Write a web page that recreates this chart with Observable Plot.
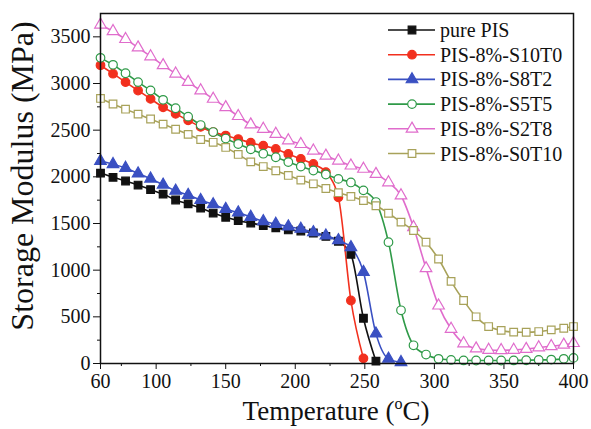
<!DOCTYPE html>
<html><head><meta charset="utf-8">
<script src="https://cdn.jsdelivr.net/npm/d3@7"></script>
<script src="https://cdn.jsdelivr.net/npm/@observablehq/plot@0.6"></script>
<style>
body{margin:0;background:#fff}
#chart svg, #chart svg text, #chart svg tspan{font-family:'Liberation Serif','DejaVu Serif',serif !important}
</style>
</head><body><div id="chart"></div>
<script>
// Temperature (°C) of the measured points
const temps = [60,69,78,87,96,105,114,123,132,141,150,159,168,177,186,195,204,213,222,231,240,249,258,267,276,285,294,303,312,321,330,339,348,357,366,375,384,393,400];
const seriesNames = ["pure PIS","PIS-8%-S10T0","PIS-8%-S8T2","PIS-8%-S5T5","PIS-8%-S2T8","PIS-8%-S0T10"];
const seriesColors = ["#111111","#f2301e","#3a50c2","#2f9a48","#e06ccc","#a8a25a"];
const seriesSymbols = ["square","circle","triangle","circle","triangle","square"];
const seriesFilled = [true,true,true,false,false,false];
// Storage modulus (MPa)
const purePIS = [2040,1995,1955,1912,1863,1815,1752,1710,1665,1612,1567,1531,1505,1478,1453,1431,1420,1398,1362,1310,1170,485,25];
const s10t0  = [3195,3105,3015,2925,2835,2745,2675,2605,2535,2480,2442,2405,2365,2334,2299,2245,2192,2138,2050,1780,675,55];
const s8t2   = [2170,2135,2095,2035,1980,1915,1850,1805,1750,1705,1655,1617,1570,1523,1495,1467,1442,1406,1370,1320,1245,980,320,50,14];
const s5t5   = [3275,3200,3110,3015,2925,2825,2735,2645,2555,2480,2410,2352,2295,2248,2210,2158,2110,2068,2025,1978,1940,1855,1730,1300,570,195,96,50,38,33,32,32,32,33,35,38,42,50,60];
const s2t8   = [3630,3560,3475,3385,3290,3195,3105,3015,2925,2835,2745,2650,2560,2513,2459,2390,2350,2280,2225,2173,2120,2085,2030,1940,1800,1460,1020,620,370,215,160,145,142,145,155,172,185,200,218];
const s0t10  = [2840,2780,2725,2672,2620,2565,2510,2455,2400,2370,2315,2240,2160,2110,2065,2015,1965,1925,1875,1830,1790,1745,1690,1610,1515,1425,1300,1120,880,675,500,396,355,336,335,342,360,378,396];
const seriesValues = [purePIS,s10t0,s8t2,s5t5,s2t8,s0t10];

const xTicks = [60,100,150,200,250,300,350,400];
const xMinorTicks = [75,125,175,225,275,325,375];
const yTicks = [0,500,1000,1500,2000,2500,3000,3500];
const yMinorTicks = [250,750,1250,1750,2250,2750,3250];

const rows = [];
seriesNames.forEach((name, k) => {
  seriesValues[k].forEach((v, i) => rows.push({T: temps[i], v, s: name}));
});

const FONT = "'Liberation Serif','DejaVu Serif',serif";
const R = 4.3;
const marks = [
  Plot.axisX({ticks: xTicks, tickSize: 6, tickPadding: 4, fontSize: 20, tickFormat: d3.format("d"), label: null, stroke: "#111", color: "#111"}),
  Plot.axisX({ticks: xMinorTicks, tickSize: 3, tickFormat: () => "", label: null, stroke: "#111"}),
  Plot.axisY({ticks: yTicks, tickSize: 7, tickPadding: 3, fontSize: 20, tickFormat: d3.format("d"), label: null, stroke: "#111", color: "#111"}),
  Plot.axisY({ticks: yMinorTicks, tickSize: 3, tickFormat: () => "", label: null, stroke: "#111"}),
  Plot.line(rows, {x: "T", y: "v", z: "s", stroke: "s", curve: "monotone-x", strokeWidth: 1.6})
];
seriesNames.forEach((name, k) => {
  marks.push(Plot.dot(rows.filter(d => d.s === name), {
    x: "T", y: "v", r: R, symbol: () => seriesSymbols[k],
    fill: seriesFilled[k] ? seriesColors[k] : "white",
    stroke: seriesColors[k], strokeWidth: 1.2
  }));
});
marks.push(Plot.frame({stroke: "#111", strokeWidth: 1.5}));

const chart = Plot.plot({
  width: 591, height: 429,
  marginLeft: 100, marginRight: 18, marginTop: 13, marginBottom: 66,
  x: {domain: [60, 400]},
  y: {domain: [0, 3750]},
  color: {domain: seriesNames, range: seriesColors},
  symbol: {domain: ["square","circle","triangle"], range: ["square","circle","triangle"]},
  style: {fontFamily: FONT, fontSize: "20px", background: "#fff", color: "#111"},
  marks
});
document.getElementById("chart").append(chart);

const svg = d3.select(chart);
svg.attr("font-family", FONT);
// axis titles
const xt = svg.append("text").attr("x", 336).attr("y", 420).attr("text-anchor", "middle")
  .attr("font-size", 27).attr("fill", "#111");
xt.append("tspan").text("Temperature (");
xt.append("tspan").attr("font-size", 16).attr("dy", -11).text("o");
xt.append("tspan").attr("dy", 11).text("C)");
svg.append("text").attr("transform", "translate(33,176) rotate(-90)").attr("text-anchor", "middle")
  .attr("font-size", 32).attr("fill", "#111").text("Storage Modulus (MPa)");

// legend
const lg = svg.append("g").attr("text-anchor", "start");
seriesNames.forEach((name, k) => {
  const y = 30 + k * 24.7;
  const g = lg.append("g").attr("transform", `translate(0,${y})`);
  g.append("line").attr("x1", 388).attr("x2", 435).attr("y1", 0).attr("y2", 0)
    .attr("stroke", seriesColors[k]).attr("stroke-width", 1.6);
  const sym = {square: d3.symbolSquare, circle: d3.symbolCircle, triangle: d3.symbolTriangle}[seriesSymbols[k]];
  g.append("path").attr("d", d3.symbol(sym, Math.PI * R * R)()).attr("transform", "translate(412,0)")
    .attr("fill", seriesFilled[k] ? seriesColors[k] : "white").attr("stroke", seriesColors[k]).attr("stroke-width", 1.2);
  g.append("text").attr("x", 440).attr("y", 0).attr("dy", "0.35em").attr("text-anchor", "start")
    .attr("font-size", 20).attr("fill", "#111").text(name);
});
svg.selectAll("text").attr("font-family", FONT);
</script>
</body></html>
